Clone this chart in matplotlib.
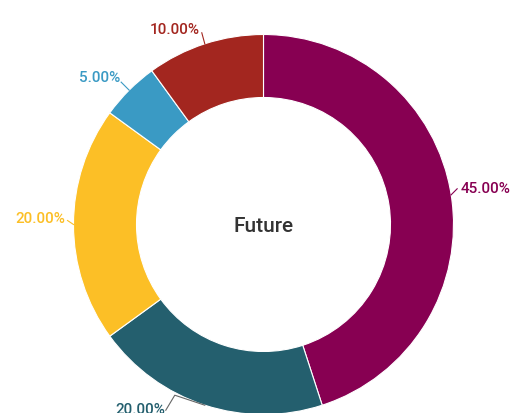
import numpy as np
import matplotlib.pyplot as plt

plt.rcParams['font.family'] = ['Roboto', 'DejaVu Sans']

# data
categories = ['A', 'B', 'C', 'D', 'E']
values = [45, 20, 20, 5, 10]
colors = ['#870052', '#245f6e', '#fcbf26', '#3a9ac4', '#a3261f']
center_title = 'Future'

W, H = 512, 413
fig = plt.figure(figsize=(W / 100, H / 100), dpi=100)
ax = fig.add_axes([0, 0, 1, 1])

cx, cy = 263.5, H - 224.5
R = 190
ring = 63

wedges, _ = ax.pie(values, colors=colors, startangle=90, counterclock=False,
                   center=(cx, cy), radius=R,
                   wedgeprops=dict(width=ring, edgecolor='white', linewidth=0.8))
ax.set_xlim(0, W)
ax.set_ylim(0, H)
ax.set_aspect('equal')
ax.axis('off')

ax.text(cx, cy - 2, center_title, ha='center', va='center', fontsize=15,
        color='#333333', fontweight='medium')

# leader lines and labels: (knee offset, label offset, ha) per slice, in pixels
layout = [
    ((6, 6), (3, 0), 'left'),
    (None, None, 'right'),
    ((-6, 4), (-2, 2), 'right'),
    ((-8, 8), (-1, 4), 'right'),
    ((-3, 11), (-2, 3), 'right'),
]
total = sum(values)
start = 90
for v, c, (knee, off, ha) in zip(values, colors, layout):
    mid = np.deg2rad(start - v / total * 360 / 2)
    start -= v / total * 360
    x0, y0 = cx + R * np.cos(mid), cy + R * np.sin(mid)
    if knee is None:
        # bottom slice: elbow line
        x1, y1 = x0 - 30, y0 + 10
        x2, y2 = x1 - 9, y1 - 15
        ax.plot([x0, x1, x2], [y0, y1, y2], color='#666666', lw=0.8, clip_on=False)
        ax.text(x2 - 1, y2, f'{v:.2f}%', ha='right', va='center',
                fontsize=11, color=c, fontweight='medium')
        continue
    x1, y1 = x0 + knee[0], y0 + knee[1]
    ax.plot([x0, x1], [y0, y1], color=c, lw=0.8)
    ax.text(x1 + off[0], y1 + off[1], f'{v:.2f}%', ha=ha, va='center',
            fontsize=11, color=c, fontweight='medium')

fig.savefig('out.png', dpi=100)
